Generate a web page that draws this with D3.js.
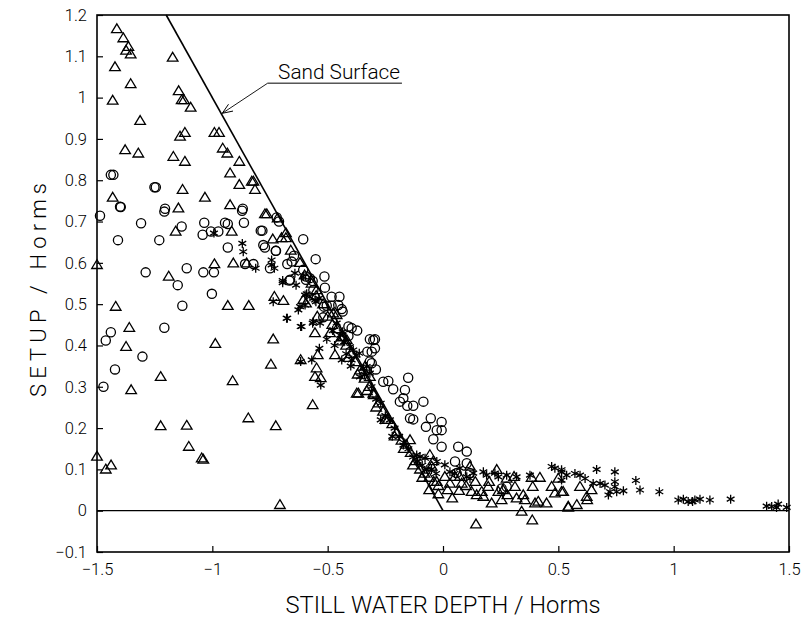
<!DOCTYPE html>
<html>
<head>
<meta charset="utf-8">
<script src="https://cdn.jsdelivr.net/npm/d3@7"></script>
<style>
  html, body { margin: 0; padding: 0; background: #fff; }
  svg text { font-family: Roboto, "DejaVu Sans", sans-serif; font-weight: 300; fill: #000; }
</style>
</head>
<body>
<svg id="chart" width="810" height="619"></svg>
<script>
// ---------------- DATA ----------------
const xTicks = [-1.5, -1, -0.5, 0, 0.5, 1, 1.5];
const yTicks = [-0.1, 0, 0.1, 0.2, 0.3, 0.4, 0.5, 0.6, 0.7, 0.8, 0.9, 1, 1.1, 1.2];
const xTitle = "STILL WATER DEPTH / Horms";
const yTitle = "SETUP / Horms";
const sandSurface = [[-1.2, 1.2], [0, 0]];
const zeroLine = [[-1.5, 0], [1.5, 0]];
const annotationText = "Sand Surface";
const annotationArrow = [[-0.76, 1.035], [-0.957, 0.962]];
const annotationUnderline = [[-0.76, 1.035], [-0.178, 1.035]];
const annotationTextAt = [-0.715, 1.046];

const triangles = [
  [-1.414,1.166],[-1.386,1.144],[-1.364,1.123],[-1.374,1.114],[-1.354,1.105],[-1.172,1.097],[-1.422,1.074],
  [-1.354,1.033],[-1.432,0.993],[-1.146,1.016],[-1.133,0.994],[-1.123,0.994],[-1.094,0.976],[-1.313,0.944],
  [-1.119,0.915],[-1.140,0.906],[-0.991,0.915],[-0.971,0.915],[-1.378,0.873],[-1.321,0.865],[-1.169,0.857],
  [-1.119,0.845],[-0.955,0.877],[-0.935,0.865],[-0.883,0.845],[-0.923,0.817],[-0.883,0.789],[-0.829,0.797],
  [-0.822,0.797],[-0.815,0.777],[-1.129,0.777],[-1.032,0.758],[-1.432,0.758],[-0.923,0.740],[-1.147,0.732],
  [-0.764,0.718],[-0.772,0.718],[-0.717,0.708],[-1.159,0.676],[-0.916,0.676],[-0.738,0.657],[-0.681,0.672],
  [-0.681,0.660],[-0.991,0.597],[-0.909,0.599],[-0.851,0.599],[-1.5,0.595],[-1.189,0.567],[-1.419,0.494],
  [-0.933,0.496],[-0.842,0.496],[-0.731,0.518],[-0.692,0.508],[-1.360,0.443],[-1.374,0.397],[-0.987,0.404],
  [-0.736,0.415],[-0.746,0.354],[-1.224,0.324],[-0.912,0.314],[-1.352,0.292],
  [-1.224,0.205],[-1.111,0.206],[-0.844,0.224],[-0.725,0.205],[-1.102,0.155],[-1.046,0.127],[-1.039,0.124],
  [-1.5,0.131],[-1.462,0.100],[-1.439,0.110],[-0.707,0.014],
  [-0.548,0.534],[-0.606,0.510],[-0.594,0.502],[-0.555,0.430],[-0.545,0.470],[-0.543,0.377],[-0.617,0.365],
  [-0.468,0.377],[-0.548,0.345],[-0.555,0.324],[-0.530,0.321],[-0.432,0.421],[-0.417,0.413],[-0.476,0.478],
  [-0.461,0.474],[-0.338,0.349],[-0.317,0.324],[-0.565,0.256],[-0.367,0.284],[-0.374,0.284],[-0.302,0.284],
  [-0.143,0.171],[-0.057,0.135],[-0.042,0.120],[-0.049,0.107],[-0.027,0.070],[0.008,0.082],[0.030,0.066],
  [0.052,0.082],[0.073,0.082],[0.081,0.066],[0.070,0.048],[0.117,0.107],[0.124,0.046],[0.146,0.038],
  [0.168,0.046],[0.175,0.034],[0.196,0.058],[0.233,0.099],[0.240,0.046],[0.211,0.018],[0.254,0.026],
  [0.279,0.038],[0.312,0.058],[0.319,0.030],[0.355,0.026],[0.348,0.038],[0.389,0.058],[0.399,0.018],
  [0.413,0.022],[0.384,0.080],[0.420,0.080],[0.449,0.018],[0.471,0.058],[0.485,0.042],[0.514,0.046],
  [0.500,0.078],[0.543,0.010],[0.341,-0.002],[0.387,-0.023],[0.143,-0.033],[0.276,0.078],[0.308,0.082],
  [0.521,0.046],[0.594,0.058],[0.644,0.050],[0.623,0.034],[0.625,0.026],[0.543,0.008],[0.580,0.014],
  [-0.70,0.66],[-0.66,0.63],[-0.62,0.60],[-0.60,0.57],[-0.57,0.55],[-0.55,0.52],[-0.52,0.50],[-0.50,0.47],
  [-0.48,0.45],[-0.46,0.44],[-0.44,0.42],[-0.42,0.40],[-0.40,0.38],[-0.38,0.36],[-0.36,0.34],[-0.34,0.32],
  [-0.32,0.30],[-0.30,0.28],[-0.28,0.26],[-0.26,0.24],[-0.24,0.22],[-0.22,0.21],[-0.20,0.19],[-0.18,0.17],
  [-0.16,0.16],[-0.14,0.14],[-0.12,0.12],[-0.10,0.10],[-0.08,0.09],[-0.06,0.08],[-0.04,0.07],[-0.02,0.06],
  [-0.49,0.43],[-0.45,0.41],[-0.41,0.37],[-0.37,0.33],[-0.33,0.29],[-0.29,0.25],[-0.25,0.22],[-0.21,0.18],
  [-0.17,0.15],[-0.13,0.11],[-0.09,0.08],
  [-0.06,0.05],[-0.02,0.04],[0.02,0.05],[0.04,0.03],[0.10,0.06],[0.14,0.07],[0.20,0.07],[0.26,0.05]
];

const circles = [
  [-1.440,0.813],[-1.429,0.813],[-1.251,0.783],[-1.245,0.783],[-1.400,0.736],[-1.205,0.731],[-0.868,0.731],
  [-1.397,0.735],[-1.487,0.714],[-1.208,0.724],[-0.871,0.726],[-1.309,0.696],[-1.133,0.688],[-1.035,0.697],
  [-0.945,0.697],[-0.933,0.694],[-0.863,0.697],[-1.042,0.668],[-1.006,0.676],[-0.974,0.676],[-1.409,0.655],
  [-1.230,0.655],[-0.790,0.678],[-0.783,0.678],[-0.779,0.643],[-0.772,0.637],[-0.933,0.637],[-0.725,0.629],
  [-0.858,0.597],[-0.822,0.597],[-0.750,0.587],[-0.675,0.597],[-1.289,0.577],[-1.111,0.587],[-1.039,0.577],
  [-0.993,0.577],[-1.150,0.546],[-0.666,0.557],[-1.002,0.525],[-1.130,0.496],[-1.440,0.432],[-1.462,0.412],
  [-1.208,0.443],[-1.303,0.373],[-1.422,0.342],[-1.472,0.300],
  [-0.721,0.710],[-0.711,0.700],[-0.606,0.657],[-0.724,0.629],[-0.646,0.617],[-0.656,0.603],[-0.552,0.609],
  [-0.606,0.583],[-0.594,0.567],[-0.577,0.563],[-0.514,0.567],[-0.663,0.559],[-0.594,0.559],[-0.565,0.556],
  [-0.512,0.540],[-0.562,0.534],[-0.483,0.518],[-0.449,0.518],[-0.516,0.494],[-0.504,0.496],[-0.483,0.496],
  [-0.454,0.498],[-0.439,0.488],[-0.435,0.482],[-0.519,0.468],[-0.410,0.446],[-0.396,0.442],[-0.372,0.436],
  [-0.410,0.423],[-0.317,0.415],[-0.295,0.415],[-0.295,0.393],[-0.328,0.385],[-0.317,0.361],[-0.291,0.342],
  [-0.309,0.357],[-0.302,0.413],[-0.309,0.385],[-0.151,0.322],[-0.259,0.312],[-0.237,0.314],[-0.216,0.294],
  [-0.165,0.292],[-0.172,0.272],[-0.187,0.264],[-0.155,0.254],[-0.129,0.254],[-0.085,0.264],[-0.143,0.224],
  [-0.129,0.221],[-0.053,0.224],[-0.074,0.203],[-0.006,0.215],[-0.027,0.195],[-0.006,0.195],[-0.042,0.173],
  [-0.006,0.155],[0.066,0.155],[0.103,0.143],[0.052,0.119],[0.103,0.115],[0.059,0.091],[0.117,0.091],
  [0.254,0.054],[0.276,0.058]
];

const stars = [
  [-0.993,0.672],[-0.870,0.647],[-0.866,0.627],[-0.743,0.607],[-0.743,0.595],[-0.812,0.587],[-0.695,0.557],
  [-0.736,0.506],[-0.675,0.466],
  [-0.637,0.546],[-0.642,0.575],[-0.606,0.567],[-0.591,0.525],[-0.577,0.518],[-0.551,0.506],[-0.620,0.494],
  [-0.598,0.498],[-0.695,0.552],[-0.731,0.587],[-0.598,0.522],[-0.555,0.510],[-0.538,0.514],[-0.627,0.486],
  [-0.678,0.466],[-0.617,0.446],[-0.565,0.454],[-0.533,0.454],[-0.504,0.415],[-0.478,0.436],[-0.461,0.454],
  [-0.446,0.425],[-0.435,0.433],[-0.536,0.393],[-0.429,0.409],[-0.403,0.397],[-0.389,0.389],[-0.439,0.365],
  [-0.396,0.365],[-0.374,0.377],[-0.363,0.381],[-0.345,0.345],[-0.331,0.349],[-0.617,0.361],[-0.569,0.365],
  [-0.360,0.324],[-0.317,0.333],[-0.530,0.304],[-0.562,0.458],[-0.613,0.446],
  [0.030,0.094],[0.175,0.094],[0.189,0.086],[0.225,0.091],[0.240,0.082],[0.276,0.086],[0.319,0.082],
  [0.377,0.086],[0.471,0.107],[0.485,0.103],[0.514,0.099],[0.103,0.082],[0.117,0.078],[0.131,0.091],
  [0.073,0.103],[0.008,0.111],[-0.027,0.119],[-0.078,0.127],[-0.114,0.135],[-0.100,0.131],[-0.172,0.159],
  [0.514,0.094],[0.536,0.086],[0.572,0.090],[0.594,0.086],[0.616,0.078],[0.666,0.100],[0.745,0.094],
  [0.651,0.066],[0.681,0.066],[0.702,0.062],[0.745,0.070],[0.745,0.058],[0.753,0.046],[0.724,0.046],
  [0.717,0.038],[0.782,0.048],[0.836,0.073],[0.854,0.050],[0.938,0.046],[1.020,0.026],[1.042,0.028],
  [1.063,0.022],[1.082,0.022],[1.092,0.026],[1.114,0.028],[1.157,0.026],[1.247,0.028],[1.403,0.011],
  [1.425,0.010],[1.453,0.016],[1.446,0.008],[1.490,0.008],[0.514,0.074],
  [-0.34,0.33],[-0.31,0.30],[-0.29,0.27],[-0.27,0.26],[-0.25,0.23],[-0.23,0.22],[-0.21,0.20],[-0.19,0.18],
  [-0.17,0.165],[-0.15,0.15],[-0.13,0.13],[-0.11,0.12],[-0.09,0.11],[-0.07,0.10],[-0.05,0.10],[-0.03,0.09],
  [0.05,0.09],[-0.27,0.22],[-0.22,0.18],[-0.40,0.35],[-0.42,0.38],[-0.47,0.40]
];

// ---------------- CHART ----------------
const svg = d3.select("#chart");
const L = 97, R = 789, T = 15, B = 552;
const x = d3.scaleLinear().domain([-1.5, 1.5]).range([L, R]);
const y = d3.scaleLinear().domain([-0.1, 1.2]).range([B, T]);

// axes with inward ticks
const fmt = d => (d === 0 ? "0" : d3.format("")(d)).replace("-", "\u2212");
const xAxis = d3.axisBottom(x).tickValues(xTicks).tickSizeInner(-6).tickSizeOuter(0).tickPadding(11).tickFormat(fmt);
const yAxis = d3.axisLeft(y).tickValues(yTicks).tickSizeInner(-6).tickSizeOuter(0).tickPadding(10).tickFormat(fmt);

const gx = svg.append("g").attr("transform", `translate(0,${B})`).call(xAxis);
const gy = svg.append("g").attr("transform", `translate(${L},0)`).call(yAxis);
[gx, gy].forEach(g => {
  g.select(".domain").remove();
  g.selectAll(".tick line").attr("stroke", "#000").attr("stroke-width", 1.2);
  g.selectAll(".tick text").style("font-size", "16.5px").style("font-family", "Roboto, 'DejaVu Sans', sans-serif").style("font-weight", 300).attr("fill", "#000");
});

// frame
svg.append("rect").attr("x", L).attr("y", T).attr("width", R - L).attr("height", B - T)
  .attr("fill", "none").attr("stroke", "#000").attr("stroke-width", 1.6);

const line = d3.line().x(d => x(d[0])).y(d => y(d[1]));
svg.append("path").attr("d", line(zeroLine)).attr("stroke", "#000").attr("stroke-width", 1.3).attr("fill", "none");
svg.append("path").attr("d", line(sandSurface)).attr("stroke", "#000").attr("stroke-width", 1.6).attr("fill", "none");

// annotation
svg.append("path").attr("d", line(annotationUnderline)).attr("stroke", "#000").attr("stroke-width", 1).attr("fill", "none");
svg.append("path").attr("d", line(annotationArrow)).attr("stroke", "#000").attr("stroke-width", 0.9).attr("fill", "none");
{
  const [a, b] = annotationArrow;
  const x1 = x(a[0]), y1 = y(a[1]), x2 = x(b[0]), y2 = y(b[1]);
  const ang = Math.atan2(y2 - y1, x2 - x1);
  const hl = 11, hw = 0.38;
  const p1 = [x2 - hl * Math.cos(ang - hw), y2 - hl * Math.sin(ang - hw)];
  const p2 = [x2 - hl * Math.cos(ang + hw), y2 - hl * Math.sin(ang + hw)];
  svg.append("path").attr("d", `M${p1[0]},${p1[1]}L${x2},${y2}L${p2[0]},${p2[1]}`)
    .attr("stroke", "#000").attr("stroke-width", 1).attr("fill", "none");
}
svg.append("text").attr("x", x(annotationTextAt[0])).attr("y", y(annotationTextAt[1]))
  .attr("textLength", 122).attr("lengthAdjust", "spacingAndGlyphs")
  .style("font-size", "20px").text(annotationText);

// markers
const g = svg.append("g").attr("fill", "none").attr("stroke", "#000").attr("stroke-width", 1.3);
g.selectAll(".tri").data(triangles).join("path").attr("class", "tri")
  .attr("d", d => { const cx = x(d[0]), cy = y(d[1]); return `M${cx},${cy-5.2}L${cx+5.3},${cy+3.6}L${cx-5.3},${cy+3.6}Z`; });
g.selectAll(".cir").data(circles).join("circle").attr("class", "cir")
  .attr("cx", d => x(d[0])).attr("cy", d => y(d[1])).attr("r", 4.6);
g.selectAll(".star").data(stars).join("path").attr("class", "star")
  .attr("d", d => {
    const cx = x(d[0]), cy = y(d[1]), r = 4.5;
    let s = "";
    [90, 30, 150].forEach(a => {
      const rad = a * Math.PI / 180, dx = r * Math.cos(rad), dy = r * Math.sin(rad);
      s += `M${cx - dx},${cy - dy}L${cx + dx},${cy + dy}`;
    });
    return s;
  });

// titles
svg.append("text").attr("x", 443).attr("y", 613).attr("text-anchor", "middle")
  .attr("textLength", 315).attr("lengthAdjust", "spacingAndGlyphs")
  .style("font-size", "23px").text(xTitle);
svg.append("text").attr("transform", `translate(46,290) rotate(-90)`).attr("text-anchor", "middle")
  .attr("textLength", 214).attr("lengthAdjust", "spacing")
  .style("font-size", "22px").text(yTitle);
</script>
</body>
</html>
